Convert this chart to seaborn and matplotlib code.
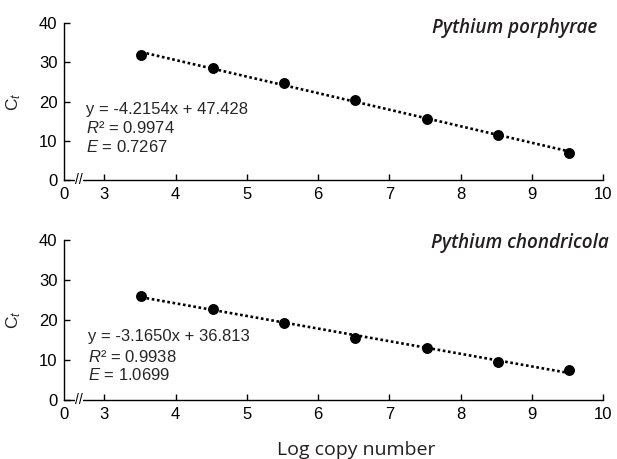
import numpy as np
import pandas as pd
import matplotlib
matplotlib.use("Agg")
import matplotlib.pyplot as plt
import seaborn as sns

# data
log_copy = [3.52, 4.52, 5.52, 6.52, 7.52, 8.52, 9.52]
ct_porphyrae = [31.9, 28.5, 24.8, 20.4, 15.6, 11.4, 7.0]
ct_chondricola = [26.0, 22.8, 19.4, 15.5, 13.0, 9.5, 7.6]
species = ["Pythium porphyrae", "Pythium chondricola"]
fit_text = [
    ["y = -4.2154x + 47.428", "$R$² = 0.9974", "$E$ = 0.7267"],
    ["y = -3.1650x + 36.813", "$R$² = 0.9938", "$E$ = 1.0699"],
]
x_ticks = [3, 4, 5, 6, 7, 8, 9, 10]
y_ticks = [0, 10, 20, 30, 40]

sns.set_style("ticks")
plt.rcParams["font.family"] = ["Liberation Sans", "DejaVu Sans"]
plt.rcParams["mathtext.fontset"] = "custom"
plt.rcParams["mathtext.rm"] = "Liberation Sans"
plt.rcParams["mathtext.it"] = "Liberation Sans:italic"

fig = plt.figure(figsize=(6.17, 4.59), dpi=100)
ax_top = fig.add_axes([0.1042, 0.6078, 0.8736, 0.342])
ax_bot = fig.add_axes([0.1042, 0.1279, 0.8736, 0.3492])

x_left = 2.439  # where the "0" of the broken axis sits
ct_sets = [ct_porphyrae, ct_chondricola]
text_pos = [
    (0.040, [0.452, 0.331, 0.21], (0.988, 0.968)),
    (0.044, [0.401, 0.272, 0.158], (1.01, 0.983)),
]

for i, ax in enumerate([ax_top, ax_bot]):
    df = pd.DataFrame({"x": log_copy, "ct": ct_sets[i]})
    sns.regplot(data=df, x="x", y="ct", ax=ax, ci=None, color="black",
                scatter_kws={"s": 62, "alpha": 1, "linewidths": 0},
                line_kws={"linestyle": (0, (1, 1)), "linewidth": 1.9})
    ax.set_xlim(x_left, 10)
    ax.set_ylim(0, 40)
    ax.set_xticks([x_left] + x_ticks)
    ax.set_xticklabels(["0"] + [str(t) for t in x_ticks])
    ax.set_yticks(y_ticks)
    ax.tick_params(axis="both", direction="in", length=4, width=1,
                   labelsize=12, colors="black", pad=5)
    ax.xaxis.get_major_ticks()[0].tick1line.set_visible(False)
    sns.despine(ax=ax)
    for sp in ["left", "bottom"]:
        ax.spines[sp].set_linewidth(1)
        ax.spines[sp].set_color("black")
    ax.set_xlabel("")
    ax.set_ylabel("C$_t$", fontsize=12.5)
    ax.yaxis.set_label_coords(-0.077, 0.5)

    # axis break mark
    ax.text(2.65, 0, "//", ha="center", va="center", fontsize=10,
            clip_on=False, color="black",
            bbox=dict(facecolor="white", edgecolor="none", pad=0))

    tx, tys, (hx, hy) = text_pos[i]
    for line, ty in zip(fit_text[i], tys):
        ax.text(tx, ty, line, transform=ax.transAxes, fontsize=12,
                ha="left", va="center")
    ax.text(hx, hy, species[i], transform=ax.transAxes, fontsize=13.6,
            fontweight="semibold", fontstyle="italic", family="Open Sans",
            ha="right", va="center", color="#231f20")

fig.text(0.577, 0.0196, "Log copy number", ha="center", va="center",
         fontsize=14, family="Open Sans", color="#231f20")

fig.savefig("out.png", dpi=100)
